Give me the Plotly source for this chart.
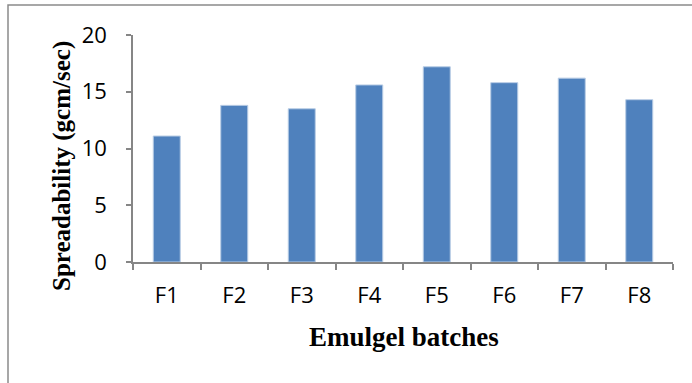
import plotly.graph_objects as go

batches = ["F1", "F2", "F3", "F4", "F5", "F6", "F7", "F8"]
spreadability = [11.1, 13.8, 13.5, 15.6, 17.2, 15.8, 16.2, 14.3]
y_ticks = [0, 5, 10, 15, 20]

W, H = 692, 383
L, R, T, B = 133, 19, 35, 121
pw, ph = W - L - R, H - T - B

def px_x(x):
    return (x - L) / pw

def px_y(y):
    return (H - B - y) / ph

fig = go.Figure(go.Bar(
    x=batches, y=spreadability, width=0.4,
    marker=dict(color="#4f81bd", line=dict(color="#b9cde5", width=1)),
))

axis_col = "#868686"
fig.update_layout(
    width=W, height=H, margin=dict(l=L, r=R, t=T, b=B),
    paper_bgcolor="white", plot_bgcolor="white", showlegend=False,
    font=dict(family="Open Sans", size=22, color="black"),
    xaxis=dict(showline=True, linecolor=axis_col, linewidth=1.5, ticks="outside",
               tickson="boundaries", ticklen=6, tickcolor=axis_col, tickwidth=1.5,
               showgrid=False, ticklabelstandoff=13, fixedrange=True),
    yaxis=dict(range=[0, 20], tickvals=y_ticks, showline=True, linecolor=axis_col,
               linewidth=1.5, ticks="outside", ticklen=5, tickcolor=axis_col, tickwidth=1.5,
               showgrid=False, zeroline=False, ticklabelstandoff=15, fixedrange=True),
    shapes=[dict(type="rect", xref="paper", yref="paper",
                 x0=px_x(8), x1=px_x(720), y0=px_y(420), y1=px_y(5),
                 line=dict(color="#8a8a8a", width=1.5), layer="below")],
    annotations=[
        dict(text="<b>Emulgel batches</b>", xref="paper", yref="paper",
             x=px_x(404), y=px_y(337), xanchor="center", yanchor="middle",
             showarrow=False, font=dict(family="Liberation Serif", size=27)),
        dict(text="<b>Spreadability (gcm/sec)</b>", xref="paper", yref="paper",
             x=px_x(62), y=px_y(166), xanchor="center", yanchor="middle", textangle=-90,
             showarrow=False, font=dict(family="Liberation Serif", size=25)),
    ],
)

fig.write_html("out.html")
